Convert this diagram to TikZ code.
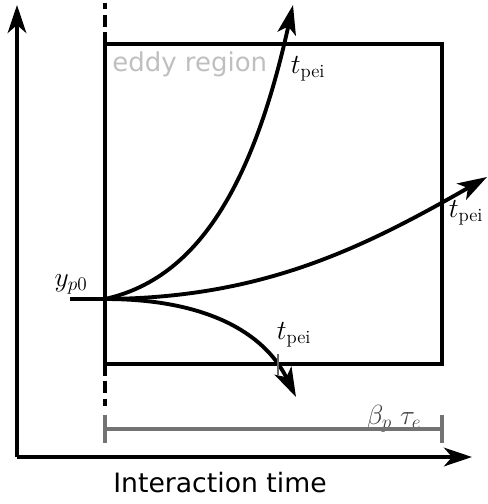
\documentclass[tikz,border=0pt]{standalone}
\usepackage{amsmath}
\usepackage{fontspec}
\setsansfont{DejaVu Sans}
\usetikzlibrary{arrows.meta, positioning}

\begin{document}
\begin{tikzpicture}[
  x=0.75pt, y=-0.75pt,
  axis/.style={-{Stealth[length=21pt, width=14pt, inset=6pt]}, line width=2.6pt},
  box/.style={line width=2.6pt},
  traj/.style={-{Stealth[length=22pt, width=14pt, inset=5.5pt]}, line width=2.9pt},
  dimbar/.style={line width=2.5pt, black!55},
  lbl/.style={inner sep=0pt, font=\fontsize{20}{23}\selectfont}
]
\useasboundingbox (0,0) rectangle (487,504);

% Nodes
\coordinate (origin) at (17,457);
\coordinate (ytip) at (17,5);
\coordinate (xtip) at (472,457);
\coordinate (p0) at (105,299);
\coordinate (start) at (70,299);
\coordinate (upend) at (293,5);
\coordinate (rightend) at (487,177);
\coordinate (downend) at (296,397);
\coordinate (dimL) at (105,429);
\coordinate (dimR) at (442,429);
\node[lbl] (yp0) at (71,284) {$y_{p0}$};
\node[lbl] (tup) at (308,69) {$t_{\text{pei}}$};
\node[lbl] (tright) at (466,213) {$t_{\text{pei}}$};
\node[lbl] (tdown) at (294,335) {$t_{\text{pei}}$};
\node[lbl, text=black!75] (beta) at (394,419) {$\beta_p\ \tau_e$};
\node[inner sep=0pt, anchor=base west, text=black!25, font=\sffamily\fontsize{19.5}{22}\selectfont] (eddy) at (112,71) {eddy region};
\node[inner sep=0pt, anchor=base, font=\sffamily\fontsize{20}{24}\selectfont] (xlabel) at (220,492) {Interaction time};

% Axes and box
\draw[axis] (origin) -- (ytip);
\draw[axis] (origin) -- (xtip);
\draw[box] (105,44) rectangle (442,364);
\draw[box, dash pattern=on 9pt off 4pt] (105,44) -- (105,3);
\draw[box, dash pattern=on 9pt off 4pt] (105,364) -- (105,406);

% Trajectories
\draw[line width=2.9pt] (start) -- (p0);
\draw[traj] (p0) .. controls (190,280) and (250,200) .. (upend);
\draw[traj] (p0) .. controls (260,298) and (360,250) .. (rightend);
\draw[traj] (p0) .. controls (205,299) and (264,332) .. (downend);
\draw[line width=1.8pt, black!60] (278,354) -- (278,375);

% Eddy time
\draw[dimbar] (dimL) -- (dimR);
\draw[dimbar] (105,415) -- (105,443);
\draw[dimbar] (442,415) -- (442,443);

\end{tikzpicture}
\end{document}
